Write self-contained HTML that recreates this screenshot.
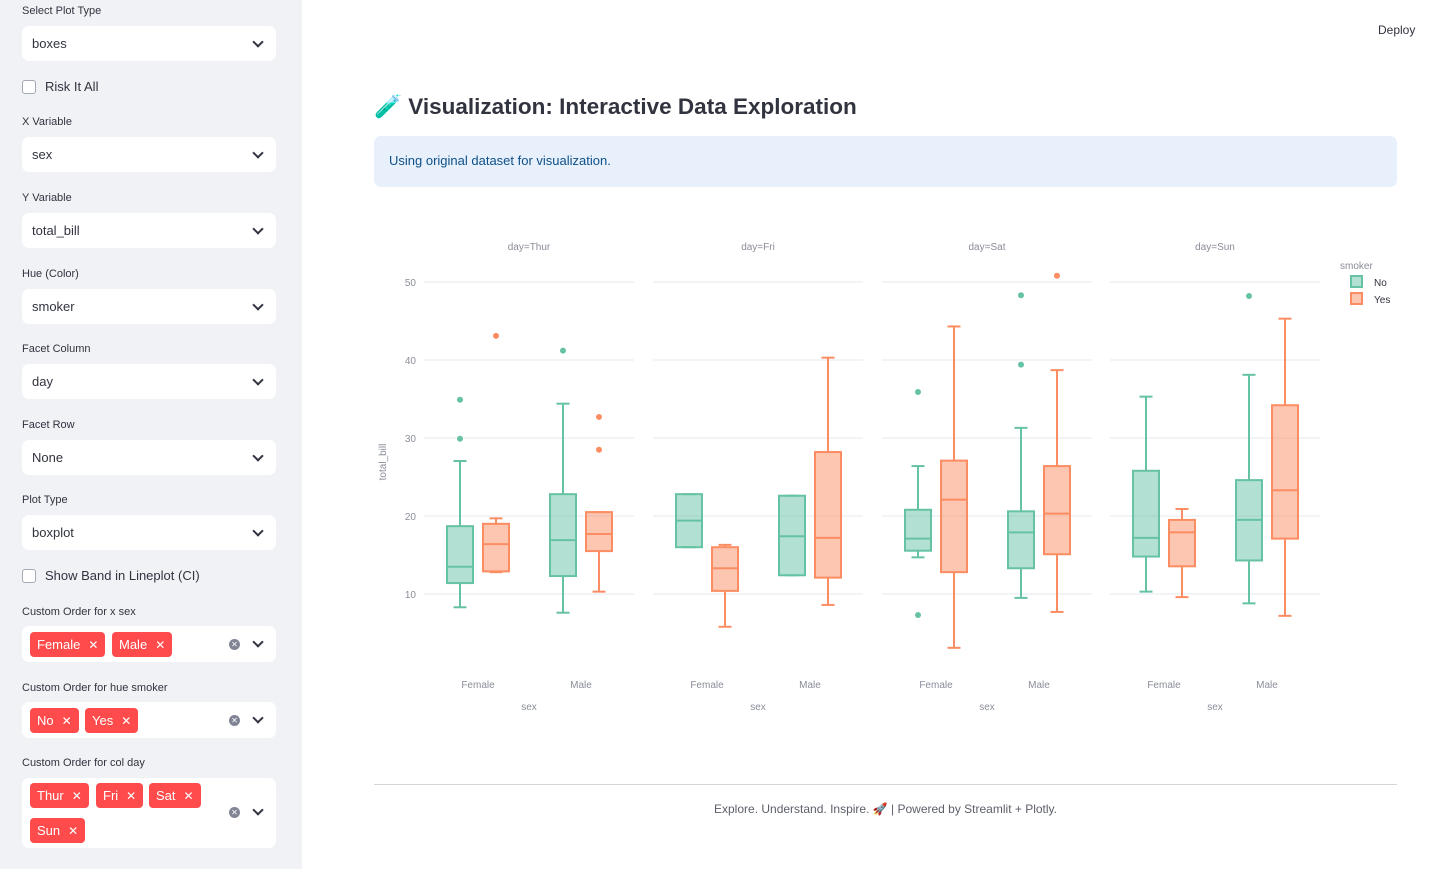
<!DOCTYPE html>
<html><head><meta charset="utf-8">
<style>
body{margin:0;width:1432px;height:869px;overflow:hidden;font-family:"Liberation Sans",sans-serif;background:#fff;position:relative}
#sb{position:absolute;left:0;top:0;width:302px;height:869px;background:#f0f2f6}
.lbl{position:absolute;left:22px;font-size:11px;color:#31333f}
.sel{position:absolute;left:22px;width:254px;height:35px;background:#fff;border-radius:7px;font-size:13px;color:#31333f}
.sel .t{position:absolute;left:10px;top:10px}
.chev{position:absolute;right:14px;top:12px;width:6px;height:6px;border-right:2px solid #31333f;border-bottom:2px solid #31333f;transform:rotate(45deg)}
.clr{position:absolute;right:36px;width:11px;height:11px;border-radius:50%;background:#808495;color:#fff;font-size:8px;text-align:center;line-height:11px}
.cb{position:absolute;left:22px;font-size:13px;color:#31333f}
.cb span{display:inline-block;width:12px;height:12px;border:1px solid #a3a8b4;border-radius:3px;background:#fff;vertical-align:-3px;margin-right:9px}
.tag{position:absolute;height:25px;background:#ff4b4b;color:#fff;border-radius:4px;font-size:13px;line-height:25px;padding:0 7px}
.tag i{font-style:normal;margin-left:8px;font-size:12px}
</style></head><body>
<div id="sb">
<div class="lbl" style="top:5px">Select Plot Type</div>
<div class="sel" style="top:26px"><span class="t">boxes</span><div class="chev"></div></div>
<div class="cb" style="top:79px"><span></span>Risk It All</div>
<div class="lbl" style="top:116px">X Variable</div>
<div class="sel" style="top:137px"><span class="t">sex</span><div class="chev"></div></div>
<div class="lbl" style="top:192px">Y Variable</div>
<div class="sel" style="top:213px"><span class="t">total_bill</span><div class="chev"></div></div>
<div class="lbl" style="top:268px">Hue (Color)</div>
<div class="sel" style="top:289px"><span class="t">smoker</span><div class="chev"></div></div>
<div class="lbl" style="top:343px">Facet Column</div>
<div class="sel" style="top:364px"><span class="t">day</span><div class="chev"></div></div>
<div class="lbl" style="top:419px">Facet Row</div>
<div class="sel" style="top:440px"><span class="t">None</span><div class="chev"></div></div>
<div class="lbl" style="top:494px">Plot Type</div>
<div class="sel" style="top:515px"><span class="t">boxplot</span><div class="chev"></div></div>
<div class="cb" style="top:568px"><span></span>Show Band in Lineplot (CI)</div>
<div class="lbl" style="top:606px">Custom Order for x sex</div>
<div class="sel" style="top:626px;height:36px">
<div class="tag" style="left:8px;top:6px">Female<i>✕</i></div>
<div class="tag" style="left:90px;top:6px">Male<i>✕</i></div>
<div class="clr" style="top:13px">✕</div><div class="chev"></div></div>
<div class="lbl" style="top:682px">Custom Order for hue smoker</div>
<div class="sel" style="top:702px;height:36px">
<div class="tag" style="left:8px;top:6px">No<i>✕</i></div>
<div class="tag" style="left:63px;top:6px">Yes<i>✕</i></div>
<div class="clr" style="top:13px">✕</div><div class="chev"></div></div>
<div class="lbl" style="top:757px">Custom Order for col day</div>
<div class="sel" style="top:778px;height:70px">
<div class="tag" style="left:8px;top:5px">Thur<i>✕</i></div>
<div class="tag" style="left:74px;top:5px">Fri<i>✕</i></div>
<div class="tag" style="left:127px;top:5px">Sat<i>✕</i></div>
<div class="tag" style="left:8px;top:40px">Sun<i>✕</i></div>
<div class="clr" style="top:29px">✕</div><div class="chev" style="top:28px"></div></div>
</div>
<div style="position:absolute;left:1378px;top:23px;font-size:12px;color:#31333f">Deploy</div>
<div style="position:absolute;left:374px;top:94px;font-size:22.5px;font-weight:bold;color:#31333f">🧪 Visualization: Interactive Data Exploration</div>
<div style="position:absolute;left:374px;top:136px;width:1023px;height:51px;background:#e8f1fb;border-radius:7px"><div style="position:absolute;left:15px;top:17px;font-size:13px;color:#0e4f8a">Using original dataset for visualization.</div></div>
<svg id="chart" style="position:absolute;left:0;top:0" width="1432" height="869"></svg>
<div style="position:absolute;left:374px;top:784px;width:1023px;height:1px;background:#d6d6d9"></div>
<div style="position:absolute;left:374px;top:802px;width:1023px;text-align:center;font-size:12px;color:#5c5f6a">Explore. Understand. Inspire. 🚀 | Powered by Streamlit + Plotly.</div>
<script>
const days=["Thur","Fri","Sat","Sun"];
const sexes=["Female","Male"];
const smokers=["No","Yes"];
const yTicks=[10,20,30,40,50];
// [lowerFence,q1,median,q3,upperFence] per day, sex, smoker
const stats={
Thur:{Female:{No:[8.3,11.4,13.5,18.7,27.05],Yes:[12.8,12.9,16.4,19.0,19.7]},Male:{No:[7.6,12.3,16.9,22.8,34.4],Yes:[10.3,15.5,17.7,20.5,20.5]}},
Fri:{Female:{No:[16.0,16.0,19.4,22.8,22.8],Yes:[5.8,10.4,13.3,16.0,16.3]},Male:{No:[12.4,12.4,17.4,22.6,22.6],Yes:[8.6,12.1,17.2,28.2,40.3]}},
Sat:{Female:{No:[14.7,15.55,17.1,20.8,26.4],Yes:[3.1,12.8,22.1,27.1,44.3]},Male:{No:[9.5,13.3,17.9,20.6,31.3],Yes:[7.7,15.1,20.3,26.4,38.7]}},
Sun:{Female:{No:[10.3,14.8,17.2,25.8,35.3],Yes:[9.6,13.55,17.9,19.5,20.9]},Male:{No:[8.8,14.3,19.5,24.6,38.1],Yes:[7.2,17.1,23.3,34.2,45.3]}}
};
const outliers={
Thur:{Female:{No:[34.9,29.9],Yes:[43.1]},Male:{No:[41.2],Yes:[32.7,28.5]}},
Fri:{Female:{No:[],Yes:[]},Male:{No:[],Yes:[]}},
Sat:{Female:{No:[35.9,7.3],Yes:[]},Male:{No:[48.3,39.4],Yes:[50.8]}},
Sun:{Female:{No:[],Yes:[]},Male:{No:[48.2],Yes:[]}}
};
const svg=document.getElementById('chart');const NS="http://www.w3.org/2000/svg";
function el(t,a,p){const e=document.createElementNS(NS,t);for(const k in a)e.setAttribute(k,a[k]);(p||svg).appendChild(e);return e;}
const col={No:"#66c2a5",Yes:"#fc8d62"};
const fill={No:"rgba(102,194,165,0.5)",Yes:"rgba(252,141,98,0.5)"};
const facetX=[424,653,882,1110],facetW=210;
function y(v){return 594-(v-10)*7.8;}
function catX(fi,si){return facetX[fi]+54+si*103;}
function x(fi,si,hi){return catX(fi,si)+(hi===0?-18:18);}
days.forEach((d,fi)=>{
  const g=el('g',{});
  
  
  yTicks.forEach(t=>{const l=el('line',{x1:facetX[fi],x2:facetX[fi]+facetW,y1:y(t),y2:y(t),stroke:"#e5e8ef","stroke-width":1},g);
    });
  const tt=el('text',{x:facetX[fi]+facetW/2,y:250,"text-anchor":"middle","font-size":10,fill:"#8a8d99"},g);tt.textContent="day="+d;
  
  sexes.forEach((s,si)=>{
    const lt=el('text',{x:catX(fi,si),y:688,"text-anchor":"middle","font-size":10,fill:"#8a8d99"},g);lt.textContent=s;
    
    smokers.forEach((h,hi)=>{
      const [lo,q1,md,q3,hi2]=stats[d][s][h];const cx=x(fi,si,hi),w=26;
      const bg=el('g',{},g);
      
      
      el('line',{x1:cx,x2:cx,y1:y(hi2),y2:y(q3),stroke:col[h],"stroke-width":2},bg);
      el('line',{x1:cx,x2:cx,y1:y(q1),y2:y(lo),stroke:col[h],"stroke-width":2},bg);
      el('line',{x1:cx-6.5,x2:cx+6.5,y1:y(hi2),y2:y(hi2),stroke:col[h],"stroke-width":2},bg);
      el('line',{x1:cx-6.5,x2:cx+6.5,y1:y(lo),y2:y(lo),stroke:col[h],"stroke-width":2},bg);
      el('rect',{x:cx-w/2,y:y(q3),width:w,height:y(q1)-y(q3),fill:fill[h],stroke:col[h],"stroke-width":2},bg);
      el('line',{x1:cx-w/2,x2:cx+w/2,y1:y(md),y2:y(md),stroke:col[h],"stroke-width":2},bg);
      outliers[d][s][h].forEach(o=>{const c=el('circle',{cx:cx,cy:y(o),r:3,fill:col[h]},bg);
        });
    });
  });
  const xt=el('text',{x:facetX[fi]+facetW/2,y:710,"text-anchor":"middle","font-size":10,fill:"#8a8d99"},g);xt.textContent="sex";
  
});
yTicks.forEach(t=>{const l=el('text',{x:416,y:y(t)+4,"text-anchor":"end","font-size":10,fill:"#8a8d99"});l.textContent=t;
  });
const yt=el('text',{x:386,y:462,"text-anchor":"middle","font-size":10,fill:"#8a8d99",transform:"rotate(-90 386 462)"});yt.textContent="total_bill";

const lg=el('g',{});


const lt=el('text',{x:1340,y:269,"font-size":10,fill:"#8a8d99"},lg);lt.textContent="smoker";
smokers.forEach((h,i)=>{const e=el('g',{},lg);
  
  
  el('rect',{x:1351,y:276+i*17,width:11,height:11,fill:fill[h],stroke:col[h],"stroke-width":2},e);
  const t=el('text',{x:1374,y:286+i*17,"font-size":10,fill:"#31333f"},e);t.textContent=h;});
</script>
</body></html>
